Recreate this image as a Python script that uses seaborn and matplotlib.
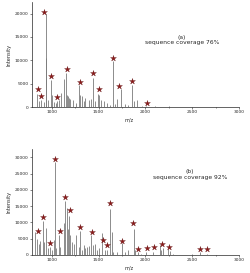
import matplotlib
matplotlib.use('Agg')
import matplotlib.pyplot as plt
import seaborn as sns
import pandas as pd
from matplotlib.ticker import MultipleLocator

# Panel (a) peaks
mz_a = [840, 870, 890, 915, 935, 940, 960, 990, 1000, 1020, 1050, 1060, 1080, 1100,
        1130, 1150, 1160, 1170, 1185, 1200, 1230, 1260, 1290, 1300, 1320, 1340, 1360,
        1400, 1420, 1440, 1460, 1490, 1510, 1530, 1560, 1590, 1620, 1650, 1680, 1700,
        1740, 1780, 1810, 1860, 1880, 1910, 1960, 2010, 2100, 2250]
int_a = [2800, 1200, 1600, 1000, 20000, 10500, 1500, 5800, 2500, 1000, 800, 1200, 1500, 3000,
         6000, 7200, 2500, 2300, 2000, 1800, 1500, 800, 4700, 2600, 2300, 1200, 2000,
         1500, 1800, 6300, 1200, 2800, 2500, 1500, 1200, 900, 500, 9800, 600, 1700,
         3800, 700, 500, 4700, 1200, 1500, 300, 300, 200, 150]
# Panel (a) stars (matched fragments)
star_mz_a = [855, 890, 921, 993, 1059, 1165, 1303, 1441, 1510, 1652, 1717, 1853, 2013]
star_int_a = [3800, 2350, 20300, 6700, 2100, 8100, 5300, 7200, 3800, 10400, 4500, 5600, 900]

# Panel (b) peaks
mz_b = [820, 840, 860, 880, 905, 920, 940, 960, 985, 1000, 1020, 1034, 1050, 1075,
        1090, 1130, 1140, 1160, 1175, 1190, 1200, 1215, 1240, 1265, 1290, 1300, 1320,
        1340, 1360, 1380, 1400, 1420, 1440, 1460, 1480, 1510, 1540, 1570, 1593, 1625,
        1640, 1660, 1700, 1747, 1780, 1820, 1877, 1890, 1920, 1950, 2010, 2080, 2160,
        2170, 2190, 2240, 2260, 2300, 2500, 2580, 2660]
int_b = [7200, 5000, 3500, 4200, 10400, 4000, 8400, 2000, 2500, 1500, 4500, 28400, 2000, 6000,
         2500, 9800, 16600, 14500, 8000, 12000, 6000, 4000, 3500, 6200, 2500, 7300, 1500,
         3200, 2000, 2500, 2800, 6000, 3200, 3500, 1500, 2000, 6700, 1500, 1500, 14200,
         7000, 800, 1000, 3700, 800, 1500, 8000, 1500, 800, 300, 800, 800, 3000,
         1500, 2000, 1800, 1200, 300, 300, 800, 300]
# Panel (b) stars
star_mz_b = [855, 910, 986, 1034, 1093, 1145, 1197, 1303, 1434, 1545, 1590, 1621, 1752,
             1870, 1917, 2015, 2094, 2174, 2250, 2588, 2656]
star_int_b = [7500, 11800, 3600, 29600, 7300, 17900, 13900, 8700, 7000, 4600, 3000, 15900, 4300,
              9700, 1750, 2150, 2550, 3380, 2550, 1930, 1930]

panels = [
    (mz_a, int_a, star_mz_a, star_int_a, 22500, [0, 5000, 10000, 15000, 20000],
     '(a)\nsequence coverage 76%', (0.725, 0.64)),
    (mz_b, int_b, star_mz_b, star_int_b, 32500, [0, 5000, 10000, 15000, 20000, 25000, 30000],
     '(b)\nsequence coverage 92%', (0.763, 0.76)),
]

sns.set_style('ticks')
plt.rcParams['font.family'] = ['DejaVu Sans']

fig = plt.figure(figsize=(2.5, 2.73), dpi=100)
rects = [[0.128, 0.608, 0.828, 0.385], [0.128, 0.066, 0.828, 0.388]]

for rect, (mz, inten, smz, sint, ytop, yticks, label, pos) in zip(rects, panels):
    ax = fig.add_axes(rect)
    peaks = pd.DataFrame({'mz': mz, 'intensity': inten})
    stars = pd.DataFrame({'mz': smz, 'intensity': sint})
    ax.vlines(peaks['mz'], 0, peaks['intensity'], color='#7a7a7a', linewidth=0.6)
    sns.scatterplot(data=stars, x='mz', y='intensity', marker='*', s=20,
                    color='#8b1a1a', edgecolor='#5a0f0f', linewidth=0.2, ax=ax, zorder=3)
    ax.set_xlim(790, 3000)
    ax.set_ylim(0, ytop)
    ax.set_xticks([1000, 1500, 2000, 2500, 3000])
    ax.xaxis.set_minor_locator(MultipleLocator(250))
    ax.set_yticks(yticks)
    ax.tick_params(axis='both', which='major', labelsize=3.2, length=1.5, width=0.4, pad=1)
    ax.tick_params(axis='x', which='minor', length=1.0, width=0.4)
    ax.set_xlabel('m/z', fontsize=3.6, labelpad=1.5)
    ax.set_ylabel('Intensity', fontsize=3.6, labelpad=2)
    ax.xaxis.set_label_coords(0.47, -0.1)
    for s in ax.spines.values():
        s.set_linewidth(0.5)
    sns.despine(ax=ax)
    ax.text(pos[0], pos[1], label, transform=ax.transAxes, ha='center', va='center',
            fontsize=4.3, linespacing=1.1)

fig.savefig('out.png', dpi=100)
